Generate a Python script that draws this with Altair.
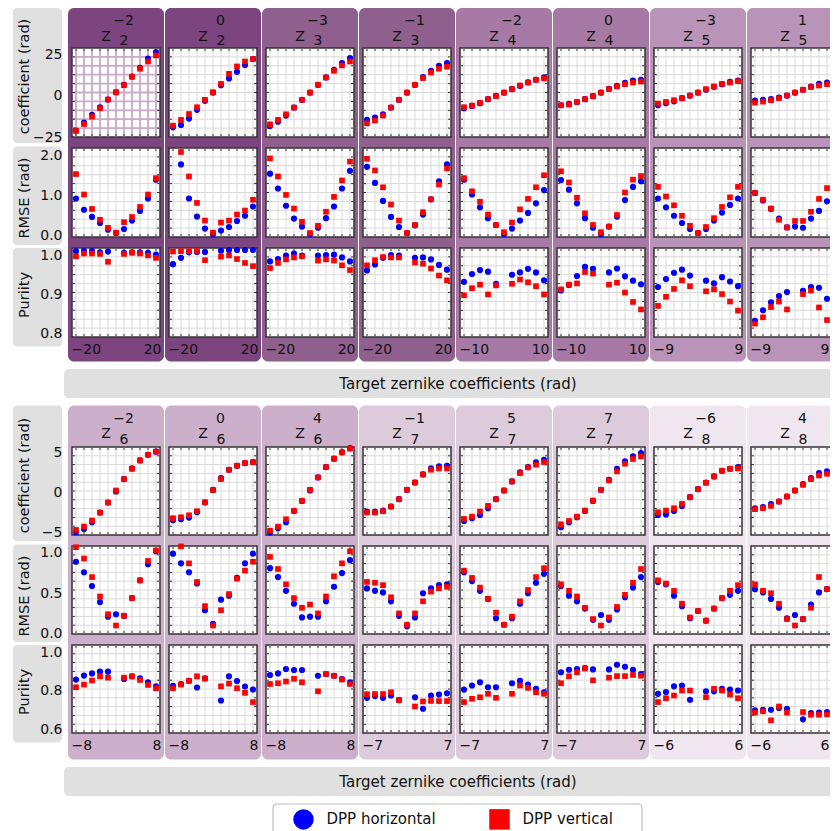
import altair as alt
import pandas as pd

FONT = "DejaVu Sans"
MINUS = "\u2212"

SERIES = ["DPP horizontal", "DPP vertical"]
SERIES_COLORS = ["#0000ff", "#ff0000"]
SERIES_SHAPES = ["circle", "square"]
ROW_TITLES = ["coefficient (rad)", "RMSE (rad)", "Puriity"]
X_TITLE = "Target zernike coefficients (rad)"

# target coefficient values (x positions) per axis limit
T20 = [-20, -16, -12, -8, -4, 0, 4, 8, 12, 16, 20]
T10 = [-10, -8, -6, -4, -2, 0, 2, 4, 6, 8, 10]
T9 = [-9, -7.2, -5.4, -3.6, -1.8, 0, 1.8, 3.6, 5.4, 7.2, 9]
T8 = [-8, -6.4, -4.8, -3.2, -1.6, 0, 1.6, 3.2, 4.8, 6.4, 8]
T7 = [-7, -5.6, -4.2, -2.8, -1.4, 0, 1.4, 2.8, 4.2, 5.6, 7]
T6 = [-6, -4.8, -3.6, -2.4, -1.2, 0, 1.2, 2.4, 3.6, 4.8, 6]
TARGETS = {20: T20, 10: T10, 9: T9, 8: T8, 7: T7, 6: T6}

# ---------------- block 1 ----------------
B1_N = [2, 2, 3, 3, 4, 4, 5, 5]
B1_M = [-2, 0, -3, -1, -2, 0, -3, 1]
B1_LIM = [20, 20, 20, 20, 10, 10, 9, 9]
B1_Y_DOMAINS = [[-25.0, 29.1], [-0.03, 2.19], [0.792, 1.018]]
B1_Y_TICKS = [[-25, 0, 25], [0.0, 1.0, 2.0], [0.8, 0.9, 1.0]]

B1_COEF_H = [
    [-21.1, -16.3, -11.6, -6.9, -2.2, 2.2, 6.7, 11.8, 17.1, 22.6, 26.6],
    [-19.1, -17.7, -13.8, -8.5, -3.0, 2.0, 6.5, 10.6, 14.6, 18.7, 22.4],
    [-18.3, -15.7, -12.0, -7.1, -2.4, 2.0, 6.7, 11.2, 15.9, 19.9, 23.0],
    [-14.6, -13.2, -11.2, -7.1, -2.4, 2.0, 6.7, 11.4, 15.2, 18.3, 19.9],
    [-7.5, -6.1, -4.5, -2.0, 0.0, 2.0, 4.1, 6.1, 8.3, 9.8, 11.2],
    [-5.7, -4.9, -3.7, -2.0, -0.2, 2.0, 4.3, 6.1, 7.9, 9.3, 9.8],
    [-5.7, -4.5, -3.3, -1.4, 0.2, 2.0, 3.7, 5.5, 7.1, 8.5, 9.3],
    [-2.8, -2.4, -2.0, -1.0, 0.2, 2.0, 3.7, 5.7, 7.3, 8.1, 8.7],
]
B1_COEF_V = [
    [-21.3, -17.1, -12.6, -7.5, -2.2, 2.2, 6.5, 11.6, 16.5, 20.9, 24.6],
    [-18.1, -14.6, -11.0, -6.9, -2.4, 2.2, 7.3, 13.4, 17.9, 20.9, 22.4],
    [-17.3, -14.6, -11.2, -7.1, -2.4, 2.0, 6.7, 11.2, 15.2, 18.5, 20.9],
    [-16.7, -15.0, -12.0, -7.1, -2.4, 2.0, 6.7, 10.8, 14.2, 16.5, 17.7],
    [-6.9, -5.9, -4.3, -2.0, -0.2, 2.0, 4.1, 6.3, 8.1, 9.8, 10.6],
    [-5.7, -5.3, -3.7, -2.0, -0.2, 2.0, 4.1, 5.7, 7.1, 8.1, 8.7],
    [-4.7, -3.7, -2.6, -1.4, 0.2, 2.0, 4.1, 5.7, 7.3, 8.1, 8.9],
    [-4.1, -3.5, -2.6, -1.4, 0.2, 2.0, 3.7, 5.3, 6.3, 7.1, 7.3],
]
B1_RMSE_H = [
    [0.93, 0.65, 0.47, 0.32, 0.15, 0.07, 0.17, 0.38, 0.62, 0.93, 1.40],
    [None, 1.78, 0.93, 0.48, 0.18, 0.04, 0.13, 0.22, 0.37, 0.50, 0.73],
    [1.55, 1.18, 0.75, 0.43, 0.23, 0.04, 0.20, 0.44, 0.73, 1.18, 1.62],
    [1.72, 1.32, 0.87, 0.47, 0.22, 0.07, 0.26, 0.53, 0.91, 1.36, 1.78],
    [1.40, 1.03, 0.71, 0.44, 0.27, 0.04, 0.18, 0.38, 0.57, 0.81, 1.14],
    [1.39, 1.15, 0.81, 0.44, 0.20, 0.04, 0.23, 0.48, 0.89, 1.22, 1.36],
    [0.93, 0.71, 0.50, 0.32, 0.17, 0.07, 0.17, 0.38, 0.58, 0.77, 0.93],
    [1.07, 0.88, 0.67, 0.43, 0.21, 0.23, 0.20, 0.43, 0.62, 0.86, 1.13],
]
B1_RMSE_V = [
    [1.54, 1.03, 0.67, 0.40, 0.20, 0.08, 0.34, 0.47, 0.72, 1.03, 1.44],
    [None, 2.09, 1.48, 0.82, 0.38, 0.08, 0.33, 0.38, 0.53, 0.63, 0.90],
    [1.93, 1.48, 1.02, 0.68, 0.35, 0.07, 0.25, 0.60, 0.97, 1.38, 1.85],
    [1.92, 1.63, 1.21, 0.78, 0.38, 0.07, 0.27, 0.59, 0.91, 1.28, 1.68],
    [1.44, 1.11, 0.85, 0.53, 0.27, 0.09, 0.33, 0.66, 0.92, 1.21, 1.51],
    [1.61, 1.33, 0.95, 0.56, 0.27, 0.09, 0.23, 0.52, 1.08, 1.40, 1.49],
    [1.22, 0.98, 0.76, 0.50, 0.25, 0.07, 0.22, 0.44, 0.72, 0.96, 1.22],
    [1.07, 0.90, 0.68, 0.40, 0.21, 0.37, 0.37, 0.60, 0.92, 1.19, 1.36],
]
B1_PUR_H = [
    [1.010, 1.011, 1.010, 1.007, 1.009, None, 1.006, 1.007, 1.007, 1.006, 1.001],
    [0.977, 0.993, 1.007, 1.008, 1.008, None, 1.011, 1.013, 1.013, 1.013, 1.013],
    [0.984, 0.990, 0.999, 1.004, 0.999, None, 0.999, 1.000, 1.001, 0.994, 0.984],
    [0.961, 0.976, 0.993, 1.000, 0.999, None, 0.993, 0.994, 0.989, 0.975, 0.963],
    [0.932, 0.952, 0.962, 0.958, 0.927, None, 0.950, 0.956, 0.965, 0.956, 0.936],
    [0.910, 0.924, 0.947, 0.970, 0.965, None, 0.956, 0.966, 0.946, 0.935, 0.926],
    [0.919, 0.939, 0.955, 0.963, 0.948, None, 0.935, 0.928, 0.944, 0.933, 0.921],
    [0.833, 0.860, 0.880, 0.896, 0.906, None, 0.909, 0.919, 0.917, 0.889, 0.859],
]
B1_PUR_V = [
    [0.997, 1.004, 1.004, 1.003, 0.983, None, 1.003, 1.006, 1.004, 0.999, 0.993],
    [1.009, 1.010, 1.010, 1.010, 0.987, None, 0.996, 0.999, 0.990, 0.980, 0.972],
    [0.967, 0.980, 0.989, 0.994, 0.997, None, 0.986, 0.989, 0.986, 0.974, 0.962],
    [0.974, 0.987, 0.995, 0.994, 0.994, None, 0.981, 0.978, 0.966, 0.948, 0.936],
    [0.898, 0.916, 0.925, 0.900, 0.923, None, 0.927, 0.938, 0.931, 0.921, 0.900],
    [0.913, 0.925, 0.928, 0.957, 0.953, None, 0.925, 0.930, 0.905, 0.881, 0.862],
    [0.871, 0.894, 0.914, 0.936, 0.921, None, 0.908, 0.913, 0.901, 0.882, 0.859],
    [0.826, 0.842, 0.868, 0.882, 0.862, None, 0.901, 0.910, 0.867, 0.835, 0.819],
]

# ---------------- block 2 ----------------
B2_N = [6, 6, 6, 7, 7, 7, 8, 8]
B2_M = [-2, 0, 4, -1, 5, 7, -6, 4]
B2_LIM = [8, 8, 8, 7, 7, 7, 6, 6]
B2_Y_DOMAINS = [[-5.29, 5.62], [-0.005, 1.085], [0.581, 1.039]]
B2_Y_TICKS = [[-5, 0, 5], [0.0, 0.5, 1.0], [0.6, 0.8, 1.0]]

B2_COEF_H = [
    [-4.95, -4.54, -3.71, -2.51, -1.26, 0.10, 1.64, 2.96, 3.96, 4.66, 5.04],
    [-3.46, -3.34, -3.13, -2.47, -1.26, 0.31, 1.76, 2.80, 3.30, 3.63, 3.75],
    [-4.99, -4.46, -3.71, -2.30, -1.06, 0.23, 1.85, 3.13, 4.17, 4.96, 5.49],
    [-2.38, -2.38, -2.26, -1.76, -0.85, 0.31, 1.22, 2.22, 2.96, 3.21, 3.30],
    [-3.55, -3.21, -2.80, -1.97, -0.85, 0.23, 1.35, 2.47, 3.13, 3.71, 4.04],
    [-4.33, -3.71, -3.09, -2.30, -1.06, 0.31, 1.55, 2.92, 3.83, 4.46, 4.87],
    [-2.80, -2.76, -2.30, -1.68, -0.60, 0.39, 1.22, 1.97, 2.67, 2.92, 3.13],
    [-1.97, -1.84, -1.47, -1.14, -0.52, 0.23, 1.01, 1.76, 2.38, 2.59, 2.67],
]
B2_COEF_V = [
    [-4.66, -4.24, -3.50, -2.51, -1.26, 0.23, 1.64, 2.92, 3.96, 4.66, 5.04],
    [-3.21, -3.09, -2.84, -2.34, -1.22, 0.27, 1.64, 2.80, 3.30, 3.63, 3.75],
    [-4.75, -4.25, -3.34, -2.30, -1.06, 0.31, 1.85, 3.13, 4.17, 4.96, 5.41],
    [-2.51, -2.51, -2.34, -1.76, -0.85, 0.31, 1.22, 2.22, 2.80, 2.96, 2.96],
    [-3.30, -3.01, -2.38, -1.68, -0.85, 0.23, 1.35, 2.38, 3.09, 3.42, 3.75],
    [-3.96, -3.55, -3.01, -2.26, -1.02, 0.31, 1.47, 2.59, 3.55, 4.13, 4.46],
    [-2.47, -2.26, -1.97, -1.43, -0.60, 0.39, 1.18, 1.97, 2.67, 2.92, 2.96],
    [-2.09, -1.97, -1.68, -1.14, -0.52, 0.23, 0.93, 1.64, 2.09, 2.30, 2.38],
]
B2_RMSE_H = [
    [0.89, 0.76, 0.59, 0.39, 0.21, 0.24, 0.22, 0.44, 0.66, 0.86, 1.02],
    [0.99, 0.87, 0.76, 0.62, 0.29, 0.12, 0.42, 0.47, 0.69, 0.87, 0.99],
    [0.81, 0.70, 0.53, 0.37, 0.20, 0.21, 0.21, 0.40, 0.58, 0.75, 0.91],
    [0.56, 0.53, 0.51, 0.40, 0.22, 0.09, 0.20, 0.50, 0.56, 0.60, 0.61],
    [0.76, 0.65, 0.53, 0.43, 0.19, 0.11, 0.19, 0.37, 0.50, 0.63, 0.74],
    [0.59, 0.47, 0.40, 0.31, 0.17, 0.23, 0.17, 0.30, 0.45, 0.57, 0.70],
    [0.64, 0.61, 0.47, 0.34, 0.19, 0.28, 0.16, 0.31, 0.44, 0.48, 0.53],
    [0.55, 0.51, 0.43, 0.32, 0.19, 0.23, 0.18, 0.36, 0.51, 0.55, 0.58],
]
B2_RMSE_V = [
    [1.07, 0.93, 0.70, 0.46, 0.24, 0.10, 0.22, 0.44, 0.66, 0.90, 1.03],
    [None, 1.08, 0.87, 0.64, 0.34, 0.10, 0.29, 0.49, 0.68, 0.78, 0.89],
    [0.95, 0.80, 0.61, 0.44, 0.32, 0.36, 0.25, 0.46, 0.71, 0.87, 1.02],
    [0.64, 0.63, 0.60, 0.45, 0.25, 0.11, 0.25, 0.40, 0.52, 0.56, 0.58],
    [0.78, 0.69, 0.57, 0.43, 0.26, 0.11, 0.21, 0.40, 0.54, 0.70, 0.81],
    [0.61, 0.53, 0.46, 0.32, 0.18, 0.10, 0.20, 0.33, 0.48, 0.63, 0.80],
    [0.66, 0.62, 0.53, 0.37, 0.20, 0.28, 0.16, 0.31, 0.44, 0.53, 0.60],
    [0.61, 0.53, 0.50, 0.37, 0.18, 0.10, 0.18, 0.32, 0.70, 0.55, 0.59],
]
B2_PUR_H = [
    [0.859, 0.880, 0.891, 0.900, 0.900, None, 0.862, 0.876, 0.866, 0.845, 0.824],
    [0.826, 0.836, 0.853, 0.818, 0.866, None, 0.750, 0.876, 0.851, 0.823, 0.807],
    [0.883, 0.891, 0.914, 0.909, 0.909, None, 0.879, 0.888, 0.879, 0.862, 0.845],
    [0.764, 0.773, 0.764, 0.776, 0.752, None, 0.767, 0.707, 0.776, 0.781, 0.788],
    [0.807, 0.828, 0.845, 0.819, 0.819, None, 0.840, 0.852, 0.833, 0.811, 0.793],
    [0.897, 0.910, 0.914, 0.919, 0.912, None, 0.912, 0.936, 0.926, 0.910, 0.888],
    [0.785, 0.794, 0.824, 0.828, 0.754, None, 0.798, 0.798, 0.811, 0.807, 0.802],
    [0.699, 0.702, 0.702, 0.711, 0.707, None, 0.652, 0.685, 0.687, 0.690, 0.687],
]
B2_PUR_V = [
    [0.819, 0.833, 0.854, 0.876, 0.869, None, 0.869, 0.876, 0.857, 0.831, 0.814],
    [0.814, 0.833, 0.852, 0.876, 0.864, None, 0.824, 0.838, 0.814, 0.790, 0.742],
    [0.836, 0.840, 0.849, 0.863, 0.845, None, 0.798, 0.888, 0.879, 0.859, 0.836],
    [0.783, 0.784, 0.784, 0.793, 0.752, None, 0.719, 0.745, 0.748, 0.747, 0.747],
    [0.742, 0.759, 0.767, 0.785, 0.764, None, 0.785, 0.828, 0.816, 0.793, 0.785],
    [0.840, 0.876, 0.897, 0.917, 0.855, None, 0.869, 0.877, 0.877, 0.883, 0.879],
    [0.742, 0.762, 0.776, 0.802, 0.802, None, 0.767, 0.811, 0.802, 0.781, 0.762],
    [0.687, 0.694, 0.647, 0.719, 0.687, None, 0.690, 0.676, 0.676, 0.678, 0.664],
]

# panel colour by radial order n
PANEL_COLORS = {2: "#7d4580", 3: "#8f5f8e", 4: "#a67aa5", 5: "#b994b8",
                6: "#ccb0cb", 7: "#ddcbdc", 8: "#efe6ef"}

BLOCKS = [
    dict(n=B1_N, m=B1_M, lim=B1_LIM, dom=B1_Y_DOMAINS, ticks=B1_Y_TICKS,
         data=[(B1_COEF_H, B1_COEF_V), (B1_RMSE_H, B1_RMSE_V), (B1_PUR_H, B1_PUR_V)],
         H=89, top=40, bot=24.5, hdr=(-7.5, -23.3, -2.6)),
    dict(n=B2_N, m=B2_M, lim=B2_LIM, dom=B2_Y_DOMAINS, ticks=B2_Y_TICKS,
         data=[(B2_COEF_H, B2_COEF_V), (B2_RMSE_H, B2_RMSE_V), (B2_PUR_H, B2_PUR_V)],
         H=88, top=41.5, bot=26.5, hdr=(-9.3, -24.3, -3.3)),
]
Y_FORMATS = ["d", ".1f", ".1f"]

W = 88
ONE = pd.DataFrame({"k": [0]})

LEG = alt.Legend(title=None, orient="none", legendX=221, legendY=760.75,
                 direction="horizontal", symbolSize=420, labelFontSize=15,
                 labelFont=FONT, labelColor="#111111", labelOffset=12.5,
                 columnPadding=53, padding=0, symbolStrokeWidth=0)
COLOR = alt.Color("series:N", scale=alt.Scale(domain=SERIES, range=SERIES_COLORS), legend=LEG)
SHAPE = alt.Shape("series:N", scale=alt.Scale(domain=SERIES, range=SERIES_SHAPES), legend=LEG)


def rect(x0, x1, y0, y1, **mk):
    return alt.Chart(ONE).mark_rect(**mk).encode(
        x=alt.value(x0), x2=alt.value(x1), y=alt.value(y0), y2=alt.value(y1))


def text(x, y, s, **mk):
    props = dict(align="center", baseline="alphabetic", fontSize=14, font=FONT, color="#111111")
    props.update(mk)
    return alt.Chart(ONE).mark_text(**props).encode(
        x=alt.value(x), y=alt.value(y), text=alt.value(s))


def cell(b, ci, ri):
    blk = BLOCKS[b]
    H = blk["H"]
    lim = blk["lim"][ci]
    n = blk["n"][ci]
    m = blk["m"][ci]
    targets = TARGETS[lim]
    xlo, xhi = -1.1 * lim, 1.1 * lim
    ylo, yhi = blk["dom"][ri]
    panel = PANEL_COLORS[n]

    if ri == 2:
        if ci == 7:
            # last column runs past the page edge: keep its right label inside the view
            right_label_at = xlo + (73.5 / W) * (xhi - xlo)
        else:
            right_label_at = xhi
        xaxis = alt.Axis(values=[xlo, right_label_at],
                         labelExpr=f"datum.value < 0 ? '{MINUS}{lim}' : '{lim}'",
                         labelFlush=True, labelFlushOffset=1,
                         ticks=False, tickSize=0, domain=False, grid=False,
                         labelFontSize=14, labelFont=FONT, labelColor="#111111",
                         labelPadding=5, title=None, zindex=1, minExtent=0)
    else:
        xaxis = None
    if ci == 0:
        yaxis = alt.Axis(values=blk["ticks"][ri], format=Y_FORMATS[ri],
                         ticks=False, tickSize=0, domain=False, grid=False,
                         labelFontSize=14, labelFont=FONT, labelColor="#111111",
                         labelPadding=10, title=None, zindex=1, minExtent=0)
    else:
        yaxis = None
    X = alt.X("x:Q", scale=alt.Scale(domain=[xlo, xhi], nice=False, zero=False), axis=xaxis)
    Y = alt.Y("v:Q", scale=alt.Scale(domain=[ylo, yhi], nice=False, zero=False), axis=yaxis)

    layers = []
    if ri == 0:
        layers.append(rect(-4, W + 4, -blk["top"], H + 8, color=panel,
                           cornerRadiusTopLeft=6, cornerRadiusTopRight=6))
    elif ri == 1:
        layers.append(rect(-4, W + 4, -3, H + 8, color=panel))
    else:
        layers.append(rect(-4, W + 4, -3, H + blk["bot"], color=panel,
                           cornerRadiusBottomLeft=6, cornerRadiusBottomRight=6))
    if ci == 0:
        gy0, gy1 = [(-blk["top"], H + 6), (-1.5, H + 8), (0, H + 9.5)][ri]
        layers.append(rect(-59, -10, gy0, gy1, color="#e0e0e0", cornerRadius=4))
        layers.append(text(-47.5, [28.5, 50, 47][ri], ROW_TITLES[ri],
                           angle=270, baseline="middle", fontSize=14.5))
    # plot background + frame
    layers.append(rect(0, W, 0, H, fill="white", stroke="#333333", strokeWidth=1.5))

    if b == 0 and ci == 0 and ri == 0:
        gcol, gw = "#c9a8c9", 1.8
    else:
        gcol, gw = "#d9d9d9", 1
    vg = pd.DataFrame({"x": targets})
    hg = pd.DataFrame({"v": [ylo + k * (yhi - ylo) / 10 for k in range(1, 10)]})
    layers.append(alt.Chart(vg).mark_rule(color=gcol, strokeWidth=gw).encode(x=X))
    layers.append(alt.Chart(hg).mark_rule(color=gcol, strokeWidth=gw).encode(y=Y))
    tk = dict(color="#333333", strokeWidth=1)
    layers.append(alt.Chart(vg).mark_rule(**tk).encode(x=X, y=alt.value(H - 3), y2=alt.value(H)))
    layers.append(alt.Chart(vg).mark_rule(**tk).encode(x=X, y=alt.value(0), y2=alt.value(3)))
    layers.append(alt.Chart(hg).mark_rule(**tk).encode(y=Y, x=alt.value(0), x2=alt.value(3)))
    layers.append(alt.Chart(hg).mark_rule(**tk).encode(y=Y, x=alt.value(W - 3), x2=alt.value(W)))

    hs, vs = blk["data"][ri]
    for si, arr, size in [(0, hs[ci], 38), (1, vs[ci], 32)]:
        df = pd.DataFrame({"x": targets, "v": arr, "series": SERIES[si]}).dropna()
        layers.append(alt.Chart(df).mark_point(filled=True, opacity=1, size=size).encode(
            x=X, y=Y, color=COLOR, shape=SHAPE))

    if ri == 0:
        hz, hsup, hsub = blk["hdr"]
        layers.append(text(W / 2 - 10, hz, "Z"))
        layers.append(text(W / 2 + 7.5, hsup, str(m).replace("-", MINUS)))
        layers.append(text(W / 2 + 8, hsub, str(n)))
    return alt.layer(*layers).properties(width=W, height=H)


def block(b):
    cols = []
    for ci in range(8):
        cols.append(alt.vconcat(*[cell(b, ci, ri) for ri in range(3)], spacing=0)
                    .resolve_scale(x="independent", y="independent"))
    return alt.hconcat(*cols, spacing=1).resolve_scale(x="independent", y="independent")


def xbar():
    return alt.layer(
        rect(-59, -58, 0, 1, color="white"),
        rect(-8, 779, 0, 29, color="#e0e0e0", cornerRadius=5),
        text(386, 14.5, X_TITLE, baseline="middle", fontSize=15),
    ).properties(width=779, height=29)


legbox = alt.layer(
    rect(-59, -58, 0, 1, color="white"),
    rect(201, 570, 0, 34, fill="white", stroke="#bdbdbd", strokeWidth=1.2, cornerRadius=4),
).properties(width=570, height=34)

chart = (
    alt.vconcat(block(0), xbar(), block(1), xbar(), legbox, spacing=7)
    .resolve_scale(x="independent", y="independent")
    .properties(autosize=alt.AutoSizeParams(type="none"),
                padding={"left": 64, "top": 40, "right": 758, "bottom": 783})
    .configure(font=FONT)
    .configure_view(strokeWidth=0)
)

chart.save("out.html", embed_options={"renderer": "svg", "actions": False})
